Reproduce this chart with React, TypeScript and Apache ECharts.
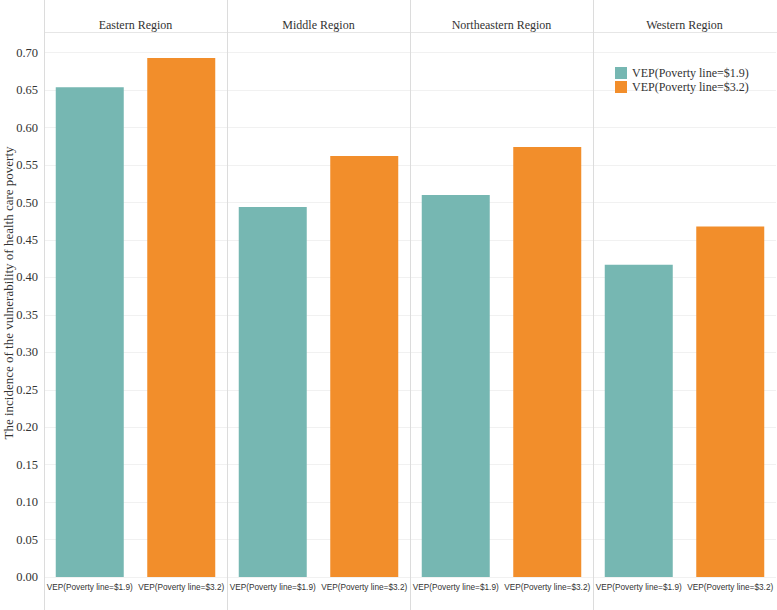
import React, { useEffect, useRef } from "react";
import * as echarts from "echarts";

const regions = ["Eastern Region", "Middle Region", "Northeastern Region", "Western Region"];
const categories = ["VEP(Poverty line=$1.9)", "VEP(Poverty line=$3.2)"];
const vep19 = [0.654, 0.494, 0.51, 0.417];
const vep32 = [0.693, 0.562, 0.574, 0.468];
const seriesNames = ["VEP(Poverty line=$1.9)", "VEP(Poverty line=$3.2)"];
const colors = ["#76B7B2", "#F28E2B"];

const SERIF = "'Liberation Serif', 'Times New Roman', serif";
const SANS = "'Liberation Sans', Arial, sans-serif";

export default function App() {
  const ref = useRef<HTMLDivElement>(null);
  useEffect(() => {
    document.body.style.margin = "0";
    if (!ref.current) return;
    const chart = echarts.init(ref.current, null, { renderer: "svg" });
    const W = 777;
    const left0 = 44;
    const pw = 183;
    const top = 32;
    const bottom = 33;
    const ymax = (577 - 32) / 749;

    const grids: any[] = [];
    const xAxes: any[] = [];
    const yAxes: any[] = [];
    const series: any[] = [];
    const graphics: any[] = [];

    regions.forEach((r, i) => {
      grids.push({ left: left0 + i * pw, width: pw, top, bottom, containLabel: false });
      xAxes.push({
        type: "category",
        gridIndex: i,
        data: categories,
        axisLine: { show: false },
        axisTick: { show: false },
        axisLabel: { fontFamily: SANS, fontSize: 8.25, color: "#333", margin: 6, interval: 0 },
      });
      yAxes.push({
        type: "value",
        gridIndex: i,
        min: 0,
        max: ymax,
        interval: 0.05,
        axisLine: { show: false },
        axisTick: { show: false },
        axisLabel: {
          show: i === 0,
          showMaxLabel: false,
          fontFamily: SERIF,
          fontSize: 12.5,
          color: "#333",
          margin: 6,
          formatter: (v: number) => v.toFixed(2),
        },
        splitLine: { show: true, lineStyle: { color: "#f1f1f1", width: 1 } },
      });
      series.push({
        name: seriesNames[0],
        type: "bar",
        xAxisIndex: i,
        yAxisIndex: i,
        data: [vep19[i], "-"],
        barWidth: 68,
        barGap: "-100%",
        itemStyle: { color: colors[0] },
      });
      series.push({
        name: seriesNames[1],
        type: "bar",
        xAxisIndex: i,
        yAxisIndex: i,
        data: ["-", vep32[i]],
        barWidth: 68,
        barGap: "-100%",
        itemStyle: { color: colors[1] },
      });
      graphics.push({
        type: "text",
        x: left0 + i * pw + pw / 2,
        y: 25,
        style: {
          text: r,
          fontFamily: SERIF,
          fontSize: 12,
          fill: "#333",
          align: "center",
          verticalAlign: "middle",
        },
      });
    });

    [0, 1, 2, 3].forEach((i) => {
      const x = left0 + i * pw + 0.5;
      graphics.push({
        type: "line",
        shape: { x1: x, y1: 0, x2: x, y2: 610 },
        style: { stroke: "#dcdcdc", lineWidth: 1 },
        z: 10,
      });
    });
    graphics.push({
      type: "line",
      shape: { x1: left0, y1: 32.5, x2: W, y2: 32.5 },
      style: { stroke: "#e6e6e6", lineWidth: 1 },
      z: 9,
    });
    graphics.push({
      type: "text",
      x: 8,
      y: 293,
      rotation: Math.PI / 2,
      style: {
        text: "The incidence of the vulnerability of health care poverty",
        fontFamily: SERIF,
        fontSize: 13,
        fill: "#333",
        align: "center",
        verticalAlign: "middle",
      },
    });

    chart.setOption({
      animation: false,
      backgroundColor: "#ffffff",
      grid: grids,
      xAxis: xAxes,
      yAxis: yAxes,
      series,
      legend: {
        data: seriesNames,
        orient: "vertical",
        left: 610,
        top: 62,
        itemWidth: 12,
        itemHeight: 12,
        itemGap: 2,
        icon: "rect",
        textStyle: { fontFamily: SERIF, fontSize: 12, color: "#333" },
      },
      graphic: graphics,
    });
    return () => chart.dispose();
  }, []);
  return <div ref={ref} style={{ width: 777, height: 610 }} />;
}
